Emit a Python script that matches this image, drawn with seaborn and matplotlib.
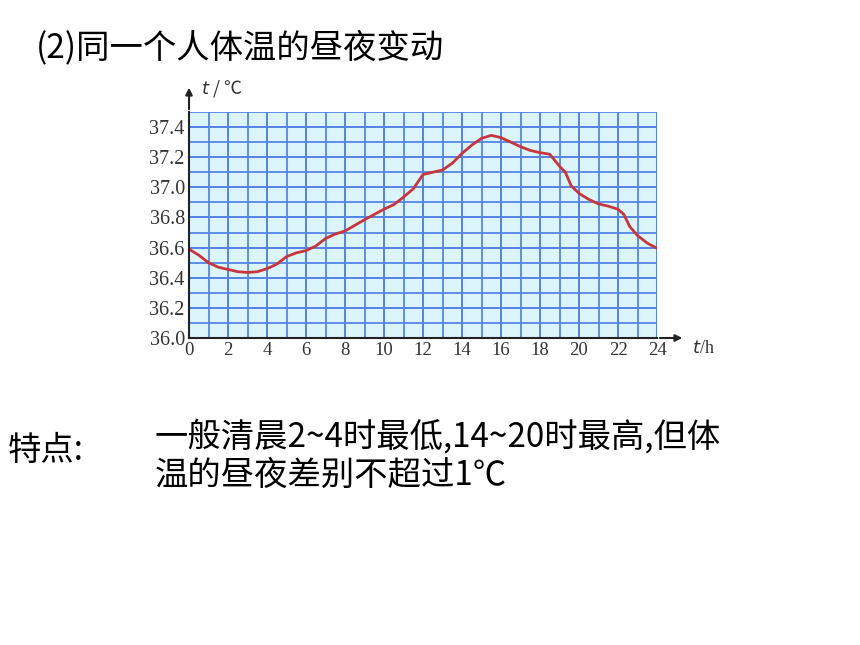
import numpy as np
import pandas as pd
import seaborn as sns
import matplotlib.pyplot as plt

# values
hours = [0, 0.5, 1, 1.5, 2, 2.5, 3, 3.5, 4, 4.5, 5, 5.5, 6, 6.5, 7, 7.5, 8, 9, 10, 10.5, 11, 11.5, 12,
         12.5, 13, 13.5, 14, 14.5, 15, 15.5, 16, 16.5, 17, 17.5, 18, 18.5, 19, 19.3, 19.6, 20, 20.5,
         21, 21.5, 22, 22.3, 22.6, 23, 23.5, 24]
temps = [36.59, 36.55, 36.50, 36.47, 36.455, 36.44, 36.435, 36.44, 36.46, 36.49, 36.54, 36.565, 36.58,
         36.61, 36.66, 36.69, 36.71, 36.785, 36.855, 36.885, 36.935, 36.99, 37.085,
         37.10, 37.115, 37.16, 37.225, 37.28, 37.325, 37.345, 37.33, 37.30, 37.27, 37.245, 37.23,
         37.22, 37.14, 37.10, 37.01, 36.96, 36.92, 36.89, 36.875, 36.855, 36.82, 36.74, 36.68, 36.63, 36.595]
xticks = list(range(0, 25, 2))
yticks = [36.0, 36.2, 36.4, 36.6, 36.8, 37.0, 37.2, 37.4]

title = "(2)同一个人体温的昼夜变动"
note_head = "特点:"
note_line1 = "一般清晨2~4时最低,14~20时最高,但体"
note_line2 = "温的昼夜差别不超过1℃"

df = pd.DataFrame({"hour": hours, "temp": temps})

sns.set_theme(style="white")
plt.rcParams['font.family'] = ['Noto Sans CJK SC', 'DejaVu Sans']

fig = plt.figure(figsize=(8.6, 6.45), dpi=100)
ax = fig.add_axes([189 / 860, 1 - 338 / 645, 468 / 860, 226 / 645])
ax.set_facecolor("#dcf5fb")

sns.lineplot(data=df, x="hour", y="temp", ax=ax, color="#c8363c", linewidth=2.0, zorder=5)

ax.set_xlim(0, 24)
ax.set_ylim(36.0, 37.5)
ax.set_xticks(xticks)
ax.set_yticks(yticks)
ax.set_xticks(np.arange(0, 25, 1), minor=True)
ax.set_yticks(np.arange(36.0, 37.51, 0.1), minor=True)
ax.xaxis.remove_overlapping_locs = False
ax.yaxis.remove_overlapping_locs = False
ax.grid(which="both", color="#5585e6", linewidth=1.3)
ax.set_xticklabels([str(x) for x in xticks], family="Liberation Serif", fontsize=13.5, color="#333333")
ax.set_yticklabels(["%.1f" % y for y in yticks], family="Liberation Serif", fontsize=14.5, color="#333333")
ax.tick_params(which="both", length=0, pad=3)
ax.set_xlabel("")
ax.set_ylabel("")
for s in ["top", "right"]:
    ax.spines[s].set_visible(False)
for s in ["left", "bottom"]:
    ax.spines[s].set_color("#222222")
    ax.spines[s].set_linewidth(1.5)
    ax.spines[s].set_zorder(6)

# axis arrows
ax.annotate("", xy=(0, 1.12), xytext=(0, 1.0), xycoords="axes fraction",
            arrowprops=dict(arrowstyle="-|>", color="#222222", lw=1.5, mutation_scale=10))
ax.annotate("", xy=(1.06, 0), xytext=(1.0, 0), xycoords="axes fraction",
            arrowprops=dict(arrowstyle="-|>", color="#222222", lw=1.5, mutation_scale=10))
ax.text(0.025, 1.105, "$t$ / ℃", transform=ax.transAxes, fontsize=13, color="#333333",
        family=["Noto Sans CJK SC", "DejaVu Sans"], va="center", ha="left")
ax.text(1.075, -0.045, "$t$/h", transform=ax.transAxes, fontsize=13, color="#333333",
        family="Liberation Serif", va="center", ha="left")

fig.text(36 / 860, 1 - 48 / 645, title, fontsize=24, va="center", ha="left", color="black")
fig.text(8 / 860, 1 - 450 / 645, note_head, fontsize=24, va="center", ha="left", color="black")
fig.text(155 / 860, 1 - 437 / 645, note_line1, fontsize=24, va="center", ha="left", color="black")
fig.text(155 / 860, 1 - 475 / 645, note_line2, fontsize=24, va="center", ha="left", color="black")

fig.savefig("out.png", dpi=100, facecolor="white")
